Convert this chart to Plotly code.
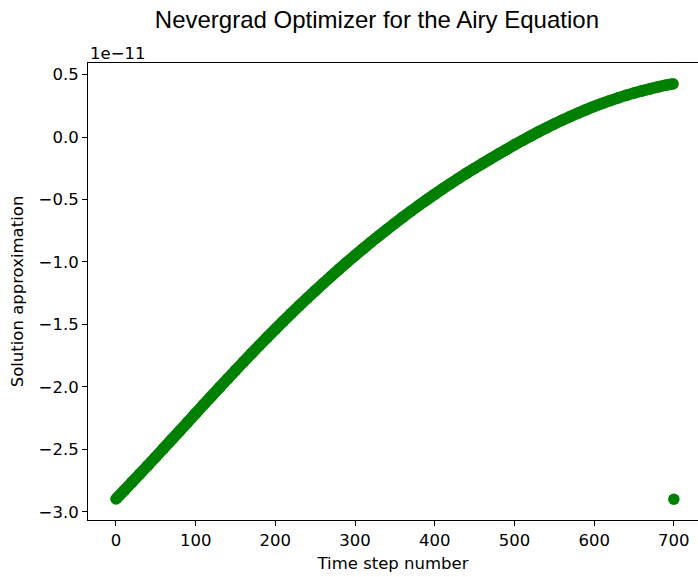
import plotly.graph_objects as go

# Nevergrad solution of the Airy equation, in units of 1e-11
SCALE_LABEL = "1e\u221211"

time_steps = list(range(0, 700, 10)) + [699]
solution = [
    -2.8975, -2.8312, -2.7643, -2.6968, -2.6287, -2.5600, -2.4909, -2.4216, -2.3521, -2.2824,
    -2.2125, -2.1427, -2.0733, -2.0043, -1.9357, -1.8675, -1.7999, -1.7331, -1.6671, -1.6019,
    -1.5375, -1.4740, -1.4115, -1.3500, -1.2895, -1.2300, -1.1715, -1.1140, -1.0575, -1.0020,
    -0.9475, -0.8940, -0.8415, -0.7900, -0.7395, -0.6900, -0.6415, -0.5940, -0.5475, -0.5020,
    -0.4575, -0.4140, -0.3715, -0.3300, -0.2895, -0.2500, -0.2113, -0.1732, -0.1357, -0.0988,
    -0.0625, -0.0270, 0.0075, 0.0410, 0.0735, 0.1050, 0.1354, 0.1646, 0.1926, 0.2194,
    0.2450, 0.2693, 0.2922, 0.3137, 0.3338, 0.3525, 0.3699, 0.3861, 0.4011, 0.4149,
    0.4263,
]

# last step returned to the initial guess
last_step = [700]
last_value = [-2.90]

GREEN = "#008000"
TICK_FONT = dict(family="DejaVu Sans", size=16.5, color="black")

fig = go.Figure()

fig.add_trace(go.Scatter(
    x=time_steps, y=solution,
    mode="lines+markers",
    line=dict(color=GREEN, width=11.5, simplify=False),
    marker=dict(color=GREEN, size=11.5),
    showlegend=False,
))
fig.add_trace(go.Scatter(
    x=last_step, y=last_value,
    mode="markers",
    marker=dict(color=GREEN, size=11.5),
    showlegend=False,
))

fig.update_xaxes(
    range=[-35.1, 730.3],
    tickmode="array", tickvals=[0, 100, 200, 300, 400, 500, 600, 700],
    ticks="outside", ticklen=5, tickwidth=1, tickcolor="black",
    showline=True, linecolor="black", linewidth=1, mirror=True,
    showgrid=False, zeroline=False,
    tickfont=TICK_FONT,
    title=dict(text="Time step number", font=TICK_FONT, standoff=8),
)
fig.update_yaxes(
    range=[-3.066, 0.593],
    tickmode="array", tickvals=[-3.0, -2.5, -2.0, -1.5, -1.0, -0.5, 0.0, 0.5],
    tickformat=".1f",
    ticks="outside", ticklen=5, tickwidth=1, tickcolor="black",
    showline=True, linecolor="black", linewidth=1,
    showgrid=False, zeroline=False,
    tickfont=TICK_FONT,
    title=dict(text="Solution approximation", font=TICK_FONT, standoff=10),
)

fig.add_annotation(
    text=SCALE_LABEL, xref="paper", yref="paper", x=0, y=1,
    xanchor="left", yanchor="bottom", yshift=-2, showarrow=False,
    font=TICK_FONT,
)

fig.update_layout(
    width=698, height=577,
    margin=dict(l=88, r=0, t=63, b=57, autoexpand=False),
    paper_bgcolor="white", plot_bgcolor="white",
    title=dict(
        text="Nevergrad Optimizer for the Airy Equation",
        font=dict(family="Liberation Sans", size=24, color="black"),
        x=0.540, xanchor="center", y=0.966, yanchor="middle", yref="container",
    ),
)

fig.write_html(
    "out.html",
    config={"displayModeBar": False},
    post_script="document.body.style.margin='0';",
)
